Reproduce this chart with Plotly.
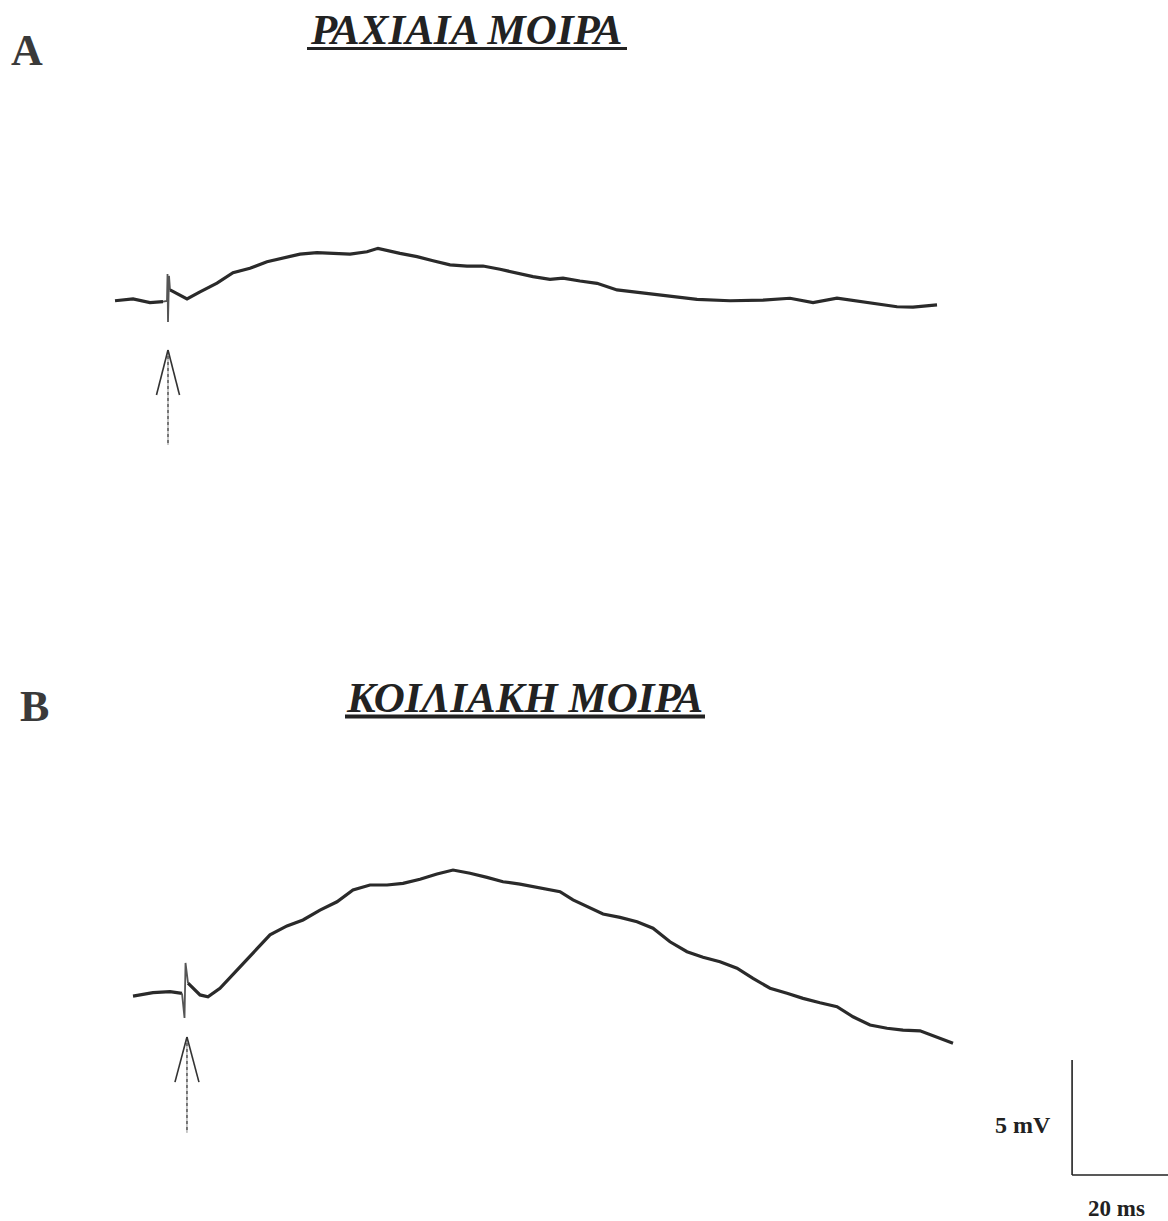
import plotly.graph_objects as go

# ---------------- data (time in ms relative to stimulus, potential in mV) ----------------
time_a = [-11.04, -7.29, -3.75, -1.04, -0.21, -0.10, 0.0, 0.21, 0.42, 2.08, 3.96, 6.67,
          10.21, 13.54, 17.08, 20.63, 23.96, 27.5, 31.04, 34.38, 37.92, 41.46, 43.75,
          48.33, 51.88, 55.21, 58.75, 62.29, 65.63, 69.17, 72.71, 76.04, 79.58, 82.29,
          85.83, 89.38, 93.54, 99.79, 105.21, 110.21, 117.08, 123.96, 129.58, 134.38,
          139.38, 144.79, 151.88, 155.21, 160.21]
volt_a = [0.01, 0.09, -0.07, -0.03, 0.0, 1.17, -0.91, 1.09, 0.48, 0.30, 0.09, 0.40,
          0.78, 1.23, 1.42, 1.71, 1.86, 2.04, 2.10, 2.07, 2.04, 2.14, 2.29,
          2.07, 1.93, 1.75, 1.57, 1.52, 1.52, 1.38, 1.20, 1.06, 0.94, 0.99,
          0.87, 0.77, 0.48, 0.33, 0.19, 0.07, 0.01, 0.04, 0.12, -0.07,
          0.12, -0.03, -0.25, -0.27, -0.17]

time_b = [-11.04, -6.88, -3.33, -0.83, -0.31, -0.10, 0.42, 2.92, 4.58, 7.08, 10.63,
          13.96, 17.5, 21.04, 24.38, 27.92, 31.46, 34.79, 38.33, 41.88, 45.21, 48.75,
          52.29, 55.63, 59.17, 62.71, 66.04, 69.58, 73.75, 77.92, 80.63, 83.54, 86.88,
          90.42, 93.96, 97.29, 100.83, 104.38, 107.71, 111.25, 114.79, 118.13, 121.67,
          125.21, 128.54, 132.08, 135.63, 138.96, 142.5, 146.04, 149.38, 152.92,
          156.46, 159.79]
volt_b = [-0.09, 0.06, 0.10, 0.03, -1.04, 1.35, 0.47, -0.04, -0.12, 0.25, 1.04,
          1.77, 2.57, 2.96, 3.22, 3.65, 4.01, 4.52, 4.74, 4.74, 4.81, 4.99,
          5.22, 5.39, 5.25, 5.07, 4.88, 4.78, 4.60, 4.45, 4.09, 3.80, 3.48,
          3.33, 3.14, 2.86, 2.27, 1.84, 1.60, 1.40, 1.12, 0.68, 0.25,
          0.03, -0.19, -0.38, -0.55, -0.99, -1.35, -1.49, -1.57, -1.60,
          -1.86, -2.14]

# index ranges of the stimulus artefact within each trace
artefact_a = (3, 8)
artefact_b = (3, 6)

stim_time_a = 0.0
stim_time_b = 0.2
panel_labels = ["A", "B"]
panel_titles = ["ΡΑΧΙΑΙΑ ΜΟΙΡΑ", "ΚΟΙΛΙΑΚΗ ΜΟΙΡΑ"]
scale_mv = 5
scale_ms = 20
scale_labels = ["5 mV", "20 ms"]

# ---------------- layout geometry ----------------
W, H = 1168, 1221
PX_PER_MS = 4.8
PX_PER_MV = 23.0
orig_a = (168, 301)
orig_b = (186, 994)


def xr(orig):
    return [-orig[0] / PX_PER_MS, (W - orig[0]) / PX_PER_MS]


def yr(orig):
    return [-(H - orig[1]) / PX_PER_MV, orig[1] / PX_PER_MV]


TRACE_COLOR = "#2a2a2a"
fig = go.Figure()


def add_record(t, v, art, xa, ya):
    i0, i1 = art
    segs = [(0, i0 + 1, 3.2, TRACE_COLOR), (i0, i1 + 1, 1.8, "#555555"), (i1, len(t), 3.2, TRACE_COLOR)]
    for a, b, w, c in segs:
        fig.add_trace(go.Scatter(x=t[a:b], y=v[a:b], mode="lines", xaxis=xa, yaxis=ya,
                                 line=dict(color=c, width=w), hoverinfo="skip"))


add_record(time_a, volt_a, artefact_a, "x", "y")
add_record(time_b, volt_b, artefact_b, "x2", "y2")

shapes = []


def arrow(xref, yref, t0, tip, length, head_len, head_w):
    out = []
    out.append(dict(type="line", xref=xref, yref=yref, x0=t0, x1=t0, y0=tip, y1=tip - length,
                    line=dict(color="#555555", width=1.6, dash="dot")))
    out.append(dict(type="line", xref=xref, yref=yref, x0=t0, x1=t0, y0=tip, y1=tip - length,
                    line=dict(color="#777777", width=0.8)))
    out.append(dict(type="line", xref=xref, yref=yref, x0=t0, x1=t0 - head_w, y0=tip, y1=tip - head_len,
                    line=dict(color="#333333", width=1.6)))
    out.append(dict(type="line", xref=xref, yref=yref, x0=t0, x1=t0 + head_w, y0=tip, y1=tip - head_len,
                    line=dict(color="#333333", width=1.6)))
    return out


shapes += arrow("x", "y", stim_time_a, -2.13, 4.13, 1.96, 2.4)
shapes += arrow("x2", "y2", stim_time_b, -1.87, 4.17, 1.96, 2.5)

# scale bar (in panel B units)
sb_t, sb_v = 184.6, -7.87
shapes.append(dict(type="line", xref="x2", yref="y2", x0=sb_t, x1=sb_t, y0=sb_v, y1=sb_v + scale_mv,
                   line=dict(color="#222222", width=1.6)))
shapes.append(dict(type="line", xref="x2", yref="y2", x0=sb_t, x1=sb_t + scale_ms, y0=sb_v, y1=sb_v,
                   line=dict(color="#222222", width=1.6)))


def px2paper(x, y):
    return x / W, 1 - y / H


for (x0, x1, y, w) in [(307, 627, 48.5, 3.2), (345, 705, 716.5, 4.0)]:
    a0, b0 = px2paper(x0, y)
    a1, _ = px2paper(x1, y)
    shapes.append(dict(type="line", xref="paper", yref="paper", x0=a0, x1=a1, y0=b0, y1=b0,
                       line=dict(color="#222222", width=w)))

annotations = []
serif = "Liberation Serif"
for label, (x, y) in zip(panel_labels, [(27, 51), (34, 706)]):
    px_, py_ = px2paper(x, y)
    annotations.append(dict(text="<b>%s</b>" % label, x=px_, y=py_, xref="paper", yref="paper",
                            xanchor="center", yanchor="middle", showarrow=False,
                            font=dict(family=serif, size=44, color="#3a3a3a")))
for title, (x, y) in zip(panel_titles, [(466, 29), (524, 697)]):
    px_, py_ = px2paper(x, y)
    annotations.append(dict(text="<b><i>%s</i></b>" % title, x=px_, y=py_, xref="paper", yref="paper",
                            xanchor="center", yanchor="middle", showarrow=False,
                            font=dict(family=serif, size=43, color="#222222")))

px_, py_ = px2paper(1053, 1125)
annotations.append(dict(text="<b>%s</b>" % scale_labels[0], x=px_, y=py_, xref="paper", yref="paper",
                        xanchor="right", yanchor="middle", showarrow=False,
                        font=dict(family=serif, size=24, color="#222222")))
px_, py_ = px2paper(1116, 1208)
annotations.append(dict(text="<b>%s</b>" % scale_labels[1], x=px_, y=py_, xref="paper", yref="paper",
                        xanchor="center", yanchor="middle", showarrow=False,
                        font=dict(family=serif, size=23, color="#222222")))

hidden = dict(visible=False, showgrid=False, zeroline=False, fixedrange=True)
fig.update_layout(
    width=W, height=H,
    margin=dict(l=0, r=0, t=0, b=0, pad=0),
    paper_bgcolor="white", plot_bgcolor="white",
    showlegend=False,
    xaxis=dict(range=xr(orig_a), domain=[0, 1], anchor="y", **hidden),
    yaxis=dict(range=yr(orig_a), domain=[0, 1], anchor="x", **hidden),
    xaxis2=dict(range=xr(orig_b), domain=[0, 1], anchor="y2", overlaying="x", **hidden),
    yaxis2=dict(range=yr(orig_b), domain=[0, 1], anchor="x2", overlaying="y", **hidden),
    shapes=shapes,
    annotations=annotations,
)

fig.write_html("out.html")
